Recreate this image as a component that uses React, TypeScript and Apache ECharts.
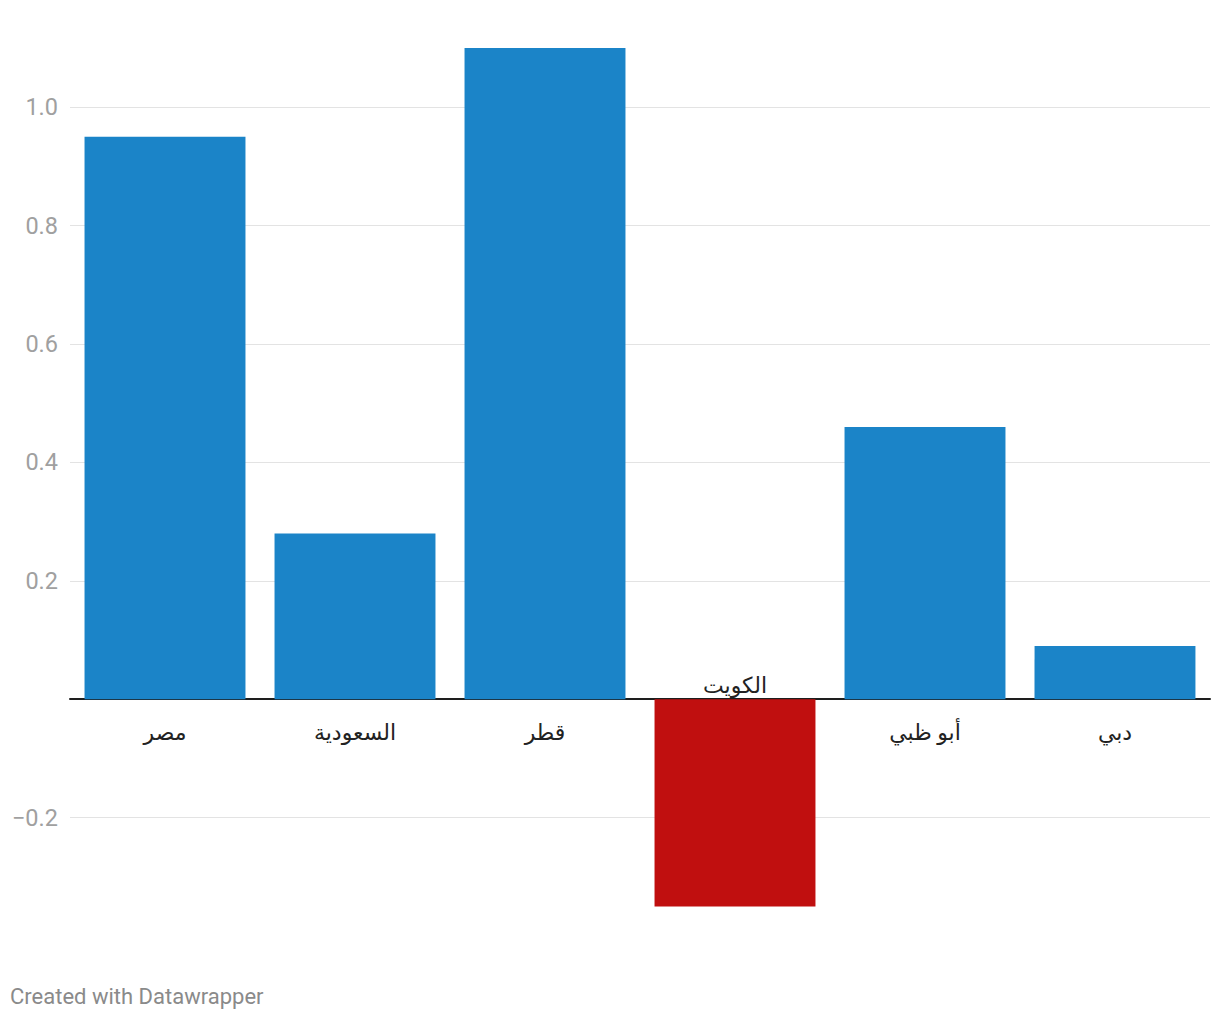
import React, { useEffect, useRef } from "react";
import * as echarts from "echarts";

const categories = ["مصر", "السعودية", "قطر", "الكويت", "أبو ظبي", "دبي"];
const values = [0.95, 0.28, 1.1, -0.35, 0.46, 0.09];
const yTicks = [-0.2, 0.2, 0.4, 0.6, 0.8, 1.0];

const BLUE = "#1b84c8";
const RED = "#c00f0f";
const FONT = 'Roboto, "DejaVu Sans", "Noto Sans", sans-serif';

export default function App() {
  const ref = useRef<HTMLDivElement>(null);
  useEffect(() => {
    if (!ref.current) return;
    const chart = echarts.init(ref.current, undefined, { renderer: "svg" });
    const data = values.map((v) => ({
      value: v,
      itemStyle: { color: v < 0 ? RED : BLUE },
      label: v < 0 ? { position: "top", distance: 3 } : { position: "bottom", distance: 22 },
    }));
    chart.setOption({
      animation: false,
      textStyle: { fontFamily: FONT },
      grid: { left: 70, right: 10, top: 48, bottom: 84, containLabel: false },
      xAxis: {
        type: "category",
        data: categories,
        axisLine: { show: true, onZero: true, lineStyle: { color: "#1e1e1e", width: 2 } },
        axisTick: { show: false },
        axisLabel: { show: false },
        splitLine: { show: false },
      },
      yAxis: {
        type: "value",
        min: -0.4,
        max: 1.1,
        interval: 0.2,
        axisLine: { show: false },
        axisTick: { show: false },
        splitLine: {
          show: true,
          showMinLine: false,
          showMaxLine: false,
          lineStyle: { color: "#e3e3e3", width: 1 },
        },
        axisLabel: {
          margin: 12,
          color: "#a0a0a0",
          fontSize: 23.5,
          fontFamily: FONT,
          formatter: (v: number) => {
            const m = yTicks.find((t) => Math.abs(t - v) < 1e-6);
            if (m === undefined) return "";
            return m.toFixed(1).replace("-", "\u2212");
          },
        },
      },
      series: [
        {
          type: "bar",
          data,
          barCategoryGap: "15.3%",
          label: {
            show: true,
            formatter: "{b}",
            color: "#222222",
            fontSize: 22,
            fontFamily: FONT,
          },
        },
      ],
      graphic: [
        {
          type: "text",
          left: 10,
          top: 985,
          style: {
            text: "Created with Datawrapper",
            fill: "#8a8a8a",
            fontSize: 22,
            fontFamily: FONT,
          },
        },
      ],
    });
    return () => chart.dispose();
  }, []);
  return (
    <div
      ref={ref}
      style={{ position: "absolute", left: 0, top: 0, width: 1220, height: 1020 }}
    />
  );
}
